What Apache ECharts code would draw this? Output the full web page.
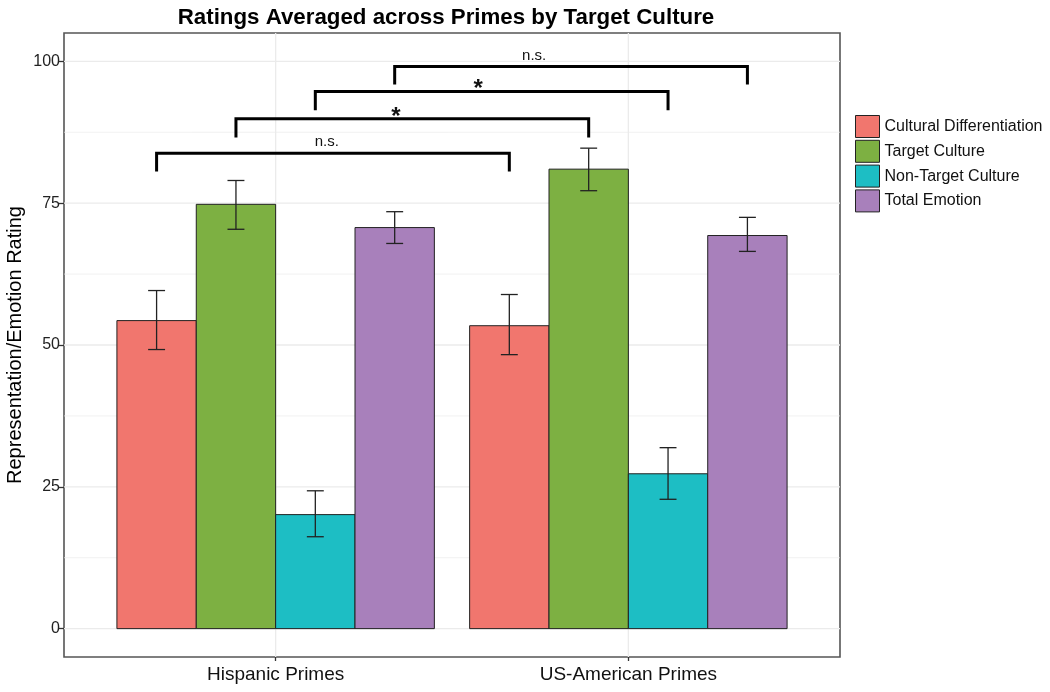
<!DOCTYPE html>
<html>
<head>
<meta charset="utf-8">
<script src="https://cdn.jsdelivr.net/npm/echarts@6/dist/echarts.min.js"></script>
<style>html,body{margin:0;padding:0;background:#fff;}#c{width:1050px;height:692px;}</style>
</head>
<body>
<div id="c"></div>
<script>
const categories = ['Hispanic Primes', 'US-American Primes'];
const measures = ['Cultural Differentiation', 'Target Culture', 'Non-Target Culture', 'Total Emotion'];
const culturalDiffMean = [54.3, 53.4];
const culturalDiffLow = [49.2, 48.3];
const culturalDiffHigh = [59.6, 58.9];
const targetMean = [74.8, 81.0];
const targetLow = [70.4, 77.2];
const targetHigh = [79.0, 84.7];
const nonTargetMean = [20.1, 27.3];
const nonTargetLow = [16.2, 22.8];
const nonTargetHigh = [24.3, 31.9];
const totalMean = [70.7, 69.3];
const totalLow = [67.9, 66.5];
const totalHigh = [73.5, 72.5];
const yTickValues = [0, 25, 50, 75, 100];
const yMinorValues = [12.5, 37.5, 62.5, 87.5];
const xTickValues = [1, 2];
// brackets: measure index, top y, end y, label, label x, label y
const bracketMeasure = [0, 1, 2, 3];
const bracketTop = [83.8, 89.9, 94.7, 99.1];
const bracketEnd = [80.6, 86.6, 91.4, 95.9];
const bracketLabels = ['n.s.', '*', '*', 'n.s.'];
const bracketLabelX = [1.145, 1.341, 1.574, 1.733];
const bracketLabelY = [85.8, 91.1, 96.2, 100.9];

const colors = ['#F1766E', '#7DB042', '#1DBEC4', '#A880BB'];
const seriesMeans = [culturalDiffMean, targetMean, nonTargetMean, totalMean];
const seriesLow = [culturalDiffLow, targetLow, nonTargetLow, totalLow];
const seriesHigh = [culturalDiffHigh, targetHigh, nonTargetHigh, totalHigh];
const barW = 0.225;
const capHalf = 0.024;
const FONT = '"Liberation Sans", Arial, sans-serif';

function barCenter(cat, k) { return cat + 1 + (k - 1.5) * barW; }

const series = [];
// grid lines
const gridData = [];
yTickValues.forEach(v => gridData.push([0, v]));
yMinorValues.forEach(v => gridData.push([1, v]));
xTickValues.forEach(v => gridData.push([2, v]));
series.push({
  type: 'custom', name: 'grid', silent: true, z: 0,
  encode: { x: -1, y: -1 },
  data: gridData,
  renderItem: function (params, api) {
    const t = api.value(0), v = api.value(1);
    let p1, p2;
    if (t === 2) { p1 = api.coord([v, -5]); p2 = api.coord([v, 105]); }
    else { p1 = api.coord([0.4, v]); p2 = api.coord([2.6, v]); }
    return { type: 'line', shape: { x1: p1[0], y1: p1[1], x2: p2[0], y2: p2[1] },
      style: { stroke: '#ebebeb', lineWidth: t === 1 ? 0.7 : 1.3 } };
  }
});

measures.forEach((m, k) => {
  const data = categories.map((c, i) => [i, seriesMeans[k][i], seriesLow[k][i], seriesHigh[k][i]]);
  series.push({
    type: 'custom', name: m, z: 2,
    itemStyle: { color: colors[k], borderColor: '#222', borderWidth: 1 },
    encode: { x: 0, y: 1 },
    data: data,
    renderItem: function (params, api) {
      const cat = api.value(0), v = api.value(1), lo = api.value(2), hi = api.value(3);
      const xc = barCenter(cat, k);
      const a = api.coord([xc - barW / 2, v]);
      const b = api.coord([xc + barW / 2, 0]);
      const t = api.coord([xc, hi]), bt = api.coord([xc, lo]);
      const cl = api.coord([xc - capHalf, hi]), cr = api.coord([xc + capHalf, hi]);
      const ll = api.coord([xc - capHalf, lo]), lr = api.coord([xc + capHalf, lo]);
      const es = { stroke: '#222', lineWidth: 1.3 };
      return { type: 'group', children: [
        { type: 'rect', shape: { x: a[0], y: a[1], width: b[0] - a[0], height: b[1] - a[1] },
          style: { fill: colors[k], stroke: '#222', lineWidth: 1 } },
        { type: 'line', shape: { x1: t[0], y1: t[1], x2: bt[0], y2: bt[1] }, style: es },
        { type: 'line', shape: { x1: cl[0], y1: cl[1], x2: cr[0], y2: cr[1] }, style: es },
        { type: 'line', shape: { x1: ll[0], y1: ll[1], x2: lr[0], y2: lr[1] }, style: es }
      ] };
    }
  });
});

series.push({
  type: 'custom', name: 'brackets', z: 3, silent: true,
  encode: { x: -1, y: -1 },
  data: bracketMeasure.map((m, i) => [m, bracketTop[i], bracketEnd[i], bracketLabelX[i], bracketLabelY[i]]),
  renderItem: function (params, api) {
    const m = api.value(0), top = api.value(1), end = api.value(2), lx = api.value(3), ly = api.value(4);
    const x1 = barCenter(0, m), x2 = barCenter(1, m);
    const p1 = api.coord([x1, end]), p2 = api.coord([x1, top]), p3 = api.coord([x2, top]), p4 = api.coord([x2, end]);
    const lp = api.coord([lx, ly]);
    const lab = bracketLabels[params.dataIndex];
    const isStar = lab === '*';
    return { type: 'group', children: [
      { type: 'polyline', shape: { points: [p1, p2, p3, p4] }, style: { stroke: '#000', lineWidth: 3, fill: null } },
      { type: 'text', x: lp[0], y: lp[1] + (isStar ? 6 : 0), style: { text: lab, fill: '#111',
        font: (isStar ? 'bold 24px ' : '15px ') + FONT, align: 'center', verticalAlign: 'middle' } }
    ] };
  }
});

const chart = echarts.init(document.getElementById('c'), null, { renderer: 'canvas' });
chart.setOption({
  animation: false,
  backgroundColor: '#fff',
  title: { text: 'Ratings Averaged across Primes by Target Culture', left: 441, top: 2, textAlign: 'center',
    textStyle: { fontFamily: FONT, fontWeight: 'bold', fontSize: 22.3, color: '#000' } },
  legend: {
    orient: 'vertical', left: 850, top: 110, itemWidth: 24, itemHeight: 22, itemGap: 1.8,
    icon: 'rect',
    data: measures.map((m, k) => ({ name: m, itemStyle: { color: colors[k], borderColor: '#222', borderWidth: 1 } })),
    textStyle: { fontFamily: FONT, fontSize: 16, color: '#111' },
    selectedMode: false
  },
  grid: { left: 64, right: 210, top: 33, bottom: 35, show: true, borderColor: '#555', borderWidth: 1.6,
    backgroundColor: 'transparent', containLabel: false, outerBoundsMode: 'none' },
  xAxis: {
    type: 'value', min: 0.4, max: 2.6,
    axisLine: { show: false, onZero: false },
    splitLine: { show: false },
    axisTick: { show: true, length: 4, lineStyle: { color: '#333', width: 1.3 }, customValues: xTickValues },
    axisLabel: { customValues: xTickValues, margin: 8, fontFamily: FONT, fontSize: 19, color: '#111',
      formatter: v => categories[Math.round(v) - 1] || '' }
  },
  yAxis: {
    type: 'value', min: -5, max: 105,
    name: 'Representation/Emotion Rating', nameLocation: 'middle', nameGap: 39, nameMoveOverlap: false,
    nameTextStyle: { fontFamily: FONT, fontSize: 20, color: '#000' },
    axisLine: { show: false, onZero: false },
    splitLine: { show: false },
    axisTick: { show: true, length: 5, lineStyle: { color: '#333', width: 1.3 }, customValues: yTickValues },
    axisLabel: { customValues: yTickValues, margin: 4, fontFamily: FONT, fontSize: 16, color: '#222' }
  },
  series: series
});
</script>
</body>
</html>
